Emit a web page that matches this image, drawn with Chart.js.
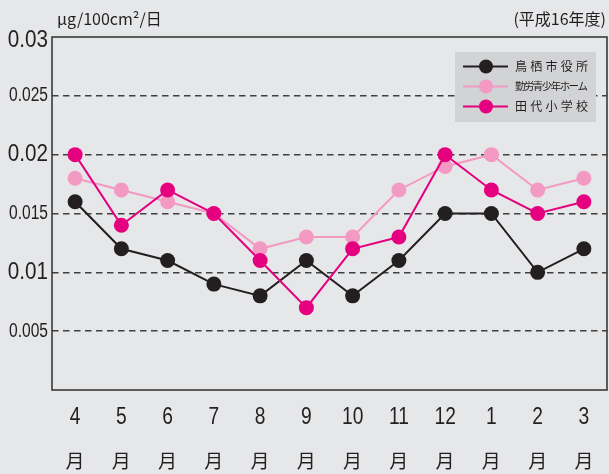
<!DOCTYPE html>
<html>
<head>
<meta charset="utf-8">
<script src="https://cdn.jsdelivr.net/npm/chart.js@4"></script>
<style>
html,body{margin:0;padding:0;background:#e6e7e8;}
#wrap{width:609px;height:474px;position:relative;}
</style>
</head>
<body>
<div id="wrap"><canvas id="c" width="609" height="474"></canvas></div>
<script>
const months = ['4','5','6','7','8','9','10','11','12','1','2','3'];
const monthSuffix = '月';
const seriesNames = ['鳥栖市役所','勤労青少年ホーム','田代小学校'];
const tosuCityHall = [0.016,0.012,0.011,0.009,0.008,0.011,0.008,0.011,0.015,0.015,0.010,0.012];
const youthHome    = [0.018,0.017,0.016,0.015,0.012,0.013,0.013,0.017,0.019,0.020,0.017,0.018];
const tashiroSchool= [0.020,0.014,0.017,0.015,0.011,0.007,0.012,0.013,0.020,0.017,0.015,0.016];
const yTicks = [0,0.005,0.01,0.015,0.02,0.025,0.03];
const unitLabel = 'μg/100cm²/日';
const yearLabel = '(平成16年度)';

const colors = ['#231f20','#f39ac3','#e5007f'];
const NUM_FONT = '"Liberation Sans",sans-serif';
const JP_FONT = '"Noto Sans CJK JP",sans-serif';

function ds(label, data, color, order){
  return {label, data, borderColor:color, backgroundColor:color, pointBackgroundColor:color,
    pointBorderWidth:0, pointRadius:7.5, pointHoverRadius:7.5, borderWidth:2, tension:0, order};
}
function fmt(v){ return v === 0 ? '' : String(+Number(v).toFixed(3)); }

const decor = {
  id:'decor',
  beforeDraw(chart){
    const c = chart.ctx;
    c.save();
    c.fillStyle = '#e6e7e8';
    c.fillRect(0,0,chart.width,chart.height);
    c.restore();
  },
  afterDraw(chart){
    const c = chart.ctx, a = chart.chartArea, xs = chart.scales.x, ys = chart.scales.y;
    c.save();
    c.strokeStyle = '#3a3a3a';
    c.lineWidth = 1.6;
    c.setLineDash([]);
    c.strokeRect(a.left, a.top, a.right - a.left, a.bottom - a.top);
    c.fillStyle = '#231f20';
    c.textAlign = 'right';
    c.textBaseline = 'middle';
    // y tick labels (condensed)
    ys.ticks.forEach(t=>{
      const s = fmt(t.value);
      if(!s) return;
      const big = Math.round(t.value*1000) % 10 === 0;
      let y = ys.getPixelForValue(t.value);
      if (Math.abs(t.value-0.03) < 1e-9) y += 3;
      c.save();
      c.translate(48, y);
      c.scale(big ? 0.86 : 0.78, 1);
      c.font = (big ? 24 : 20) + 'px ' + NUM_FONT;
      c.fillText(s, 0, 0);
      c.restore();
    });
    // x tick labels (condensed) + month suffix row
    c.textAlign = 'center';
    xs.ticks.forEach((t,i)=>{
      const x = xs.getPixelForTick(i);
      c.save();
      c.translate(x, 417);
      c.scale(0.8, 1);
      c.font = '24px ' + NUM_FONT;
      c.fillText(xs.getLabelForValue(t.value), 0, 0);
      c.restore();
      c.font = '19px ' + JP_FONT;
      c.fillText(monthSuffix, x, 461);
    });
    c.font = '16px ' + JP_FONT;
    c.textBaseline = 'alphabetic';
    c.textAlign = 'left';
    c.fillText(unitLabel, 57, 25);
    c.textAlign = 'right';
    c.fillText(yearLabel, 606, 25);
    // legend
    const lx = 455, ly = 52, lw = 141, lh = 70;
    c.fillStyle = '#d1d3d4';
    c.fillRect(lx, ly, lw, lh);
    const rows = [66.5, 86.5, 106.5];
    chart.data.datasets.forEach((d,i)=>{
      const y = rows[i];
      c.strokeStyle = d.borderColor;
      c.lineWidth = 2;
      c.beginPath(); c.moveTo(463,y); c.lineTo(508,y); c.stroke();
      c.fillStyle = d.borderColor;
      c.beginPath(); c.arc(486,y,7,0,Math.PI*2); c.fill();
      c.fillStyle = '#231f20';
      const chars = Array.from(d.label);
      const fs = chars.length > 5 ? 10.5 : 12;
      c.font = fs + 'px ' + JP_FONT;
      c.textAlign = 'left';
      c.textBaseline = 'middle';
      const span = 73;
      const step = chars.length > 1 ? (span - fs) / (chars.length - 1) : 0;
      chars.forEach((ch,k)=>{ c.fillText(ch, 515 + k*step, y); });
    });
    c.restore();
  }
};

new Chart(document.getElementById('c'), {
  type:'line',
  data:{
    labels: months,
    datasets:[
      ds(seriesNames[0], tosuCityHall, colors[0], 2),
      ds(seriesNames[1], youthHome, colors[1], 1),
      ds(seriesNames[2], tashiroSchool, colors[2], 0)
    ]
  },
  options:{
    responsive:false,
    animation:false,
    events:[],
    layout:{autoPadding:false, padding:{top:37,right:2,left:0,bottom:0}},
    plugins:{legend:{display:false}, tooltip:{enabled:false}},
    scales:{
      x:{
        type:'category',
        offset:true,
        grid:{display:false, drawTicks:false},
        border:{display:false},
        ticks:{display:false, autoSkip:false},
        afterFit(s){ s.height = 84; }
      },
      y:{
        min:0, max:0.03,
        afterBuildTicks(s){ s.ticks = yTicks.map(v=>({value:v})); },
        grid:{
          drawTicks:false,
          lineWidth:1.5,
          color(ctx){
            const v = ctx.tick ? ctx.tick.value : 0;
            return (v === 0 || Math.abs(v-0.03) < 1e-9) ? 'rgba(0,0,0,0)' : '#404040';
          }
        },
        border:{display:false, dash:[6.5,4.5]},
        ticks:{display:false, callback: fmt},
        afterFit(s){ s.width = 52; }
      }
    }
  },
  plugins:[decor]
});
</script>
</body>
</html>
